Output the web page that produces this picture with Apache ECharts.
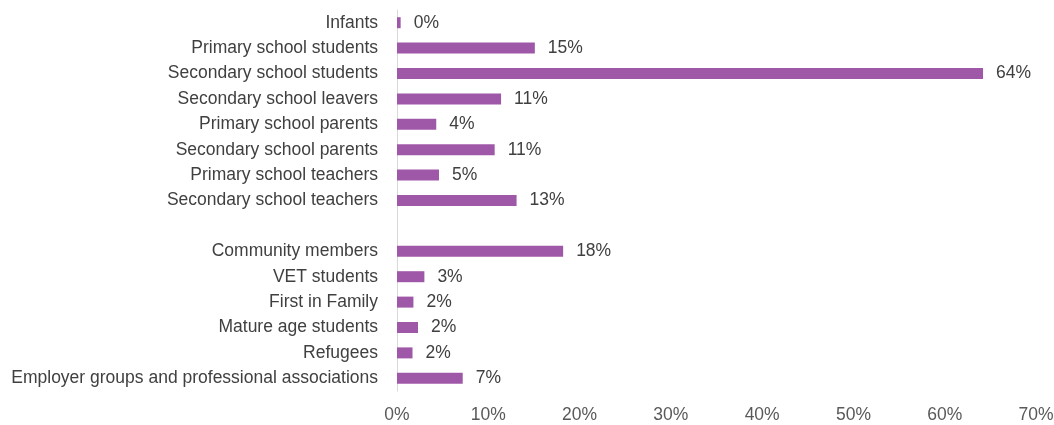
<!DOCTYPE html>
<html>
<head>
<meta charset="utf-8">
<script src="https://cdn.jsdelivr.net/npm/echarts@6/dist/echarts.min.js"></script>
<style>
  html, body { margin: 0; padding: 0; background: #fff; }
  #chart { width: 1054px; height: 425px; }
</style>
</head>
<body>
<div id="chart"></div>
<script>
  // categories top to bottom, '' is the gap row
  var categories = [
    'Infants',
    'Primary school students',
    'Secondary school students',
    'Secondary school leavers',
    'Primary school parents',
    'Secondary school parents',
    'Primary school teachers',
    'Secondary school teachers',
    '',
    'Community members',
    'VET students',
    'First in Family',
    'Mature age students',
    'Refugees',
    'Employer groups and professional associations'
  ];
  var shares = [0.4, 15.1, 64.2, 11.4, 4.3, 10.7, 4.6, 13.1, null, 18.2, 3.0, 1.8, 2.3, 1.7, 7.2];
  var xTicks = [0, 10, 20, 30, 40, 50, 60, 70];

  var font = "'Liberation Sans Narrow', 'Arial Narrow', 'Liberation Sans', sans-serif";
  var chart = echarts.init(document.getElementById('chart'));
  chart.setOption({
    animation: false,
    grid: { left: 397, right: 18, top: 10, bottom: 34, containLabel: false, outerBoundsMode: 'none' },
    xAxis: {
      type: 'value',
      min: xTicks[0],
      max: xTicks[xTicks.length - 1],
      interval: 10,
      axisLine: { show: false },
      axisTick: { show: false },
      splitLine: { show: false },
      axisLabel: {
        formatter: '{value}%',
        color: '#595959',
        fontFamily: font,
        fontSize: 17.5,
        margin: 15
      }
    },
    yAxis: {
      type: 'category',
      inverse: true,
      data: categories,
      axisLine: { show: true, lineStyle: { color: '#d9d9d9', width: 1 } },
      axisTick: { show: false },
      axisLabel: {
        color: '#404040',
        fontFamily: font,
        fontSize: 17.5,
        margin: 19
      }
    },
    series: [{
      type: 'bar',
      data: shares,
      barWidth: 11,
      itemStyle: { color: '#9f58a8' },
      label: {
        show: true,
        position: 'right',
        distance: 13,
        color: '#404040',
        fontFamily: font,
        fontSize: 17.5,
        formatter: function (p) { return Math.round(p.value) + '%'; }
      }
    }]
  });
</script>
</body>
</html>
